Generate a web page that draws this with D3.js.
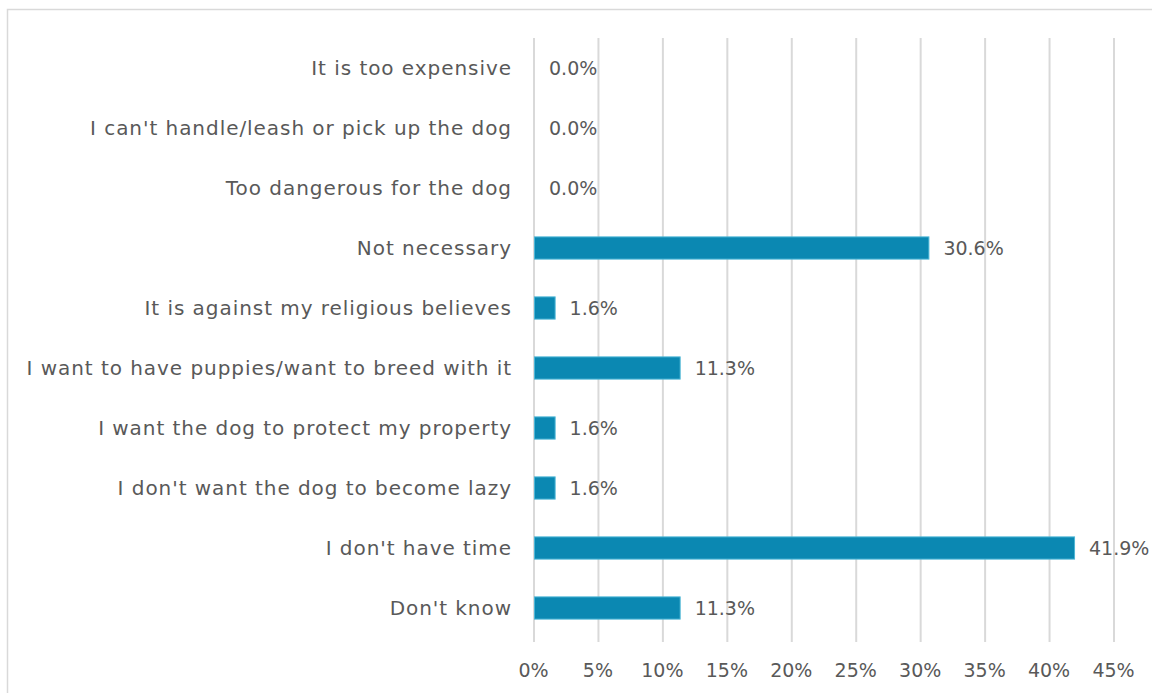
<!DOCTYPE html>
<html>
<head>
<meta charset="utf-8">
<script src="https://cdn.jsdelivr.net/npm/d3@7"></script>
<style>
  html, body { margin: 0; padding: 0; background: #ffffff; }
  svg { display: block; }
  text { font-family: "DejaVu Sans", "Liberation Sans", sans-serif; fill: #595959; }
</style>
</head>
<body>
<svg id="chart" width="1152" height="693"></svg>
<script>
// Reasons given, top to bottom
const categories = [
  "It is too expensive",
  "I can't handle/leash or pick up the dog",
  "Too dangerous for the dog",
  "Not necessary",
  "It is against my religious believes",
  "I want to have puppies/want to breed with it",
  "I want the dog to protect my property",
  "I don't want the dog to become lazy",
  "I don't have time",
  "Don't know"
];
// Share of respondents (%)
const values = [0.0, 0.0, 0.0, 30.6, 1.6, 11.3, 1.6, 1.6, 41.9, 11.3];
// Axis ticks (%)
const ticks = [0, 5, 10, 15, 20, 25, 30, 35, 40, 45];

const FONT = "'DejaVu Sans', 'Liberation Sans', sans-serif";
const svg = d3.select("#chart");

// Outer chart frame
svg.append("rect")
  .attr("x", 7.5).attr("y", 9.5)
  .attr("width", 1160).attr("height", 700)
  .attr("fill", "none").attr("stroke", "#d9d9d9").attr("stroke-width", 1.5);

const x = d3.scaleLinear().domain([0, 45]).range([534, 1114]);
const y = d3.scaleBand().domain(categories).range([38, 638]).paddingInner(0.63).paddingOuter(0.315);

// Vertical gridlines
svg.append("g")
  .selectAll("line")
  .data(ticks)
  .join("line")
  .attr("x1", d => x(d)).attr("x2", d => x(d))
  .attr("y1", 38).attr("y2", 642)
  .attr("stroke", "#d9d9d9").attr("stroke-width", 2);

// Bottom axis labels
const xAxis = d3.axisBottom(x).tickValues(ticks).tickFormat(d => d + "%").tickSize(0).tickPadding(0);
const gx = svg.append("g").attr("transform", "translate(-1,677)").call(xAxis);
gx.select(".domain").remove();
gx.selectAll("text")
  .attr("font-size", 19).attr("dy", "0em")
  .style("font-family", FONT)
  .attr("fill", "#595959");

// Category labels
const yAxis = d3.axisLeft(y).tickSize(0).tickPadding(0);
const gy = svg.append("g").attr("transform", "translate(512,0)").call(yAxis);
gy.select(".domain").remove();
gy.selectAll("text")
  .attr("font-size", 20)
  .attr("dy", "0.36em")
  .style("letter-spacing", "0.95px")
  .style("font-family", FONT)
  .attr("fill", "#595959");

// Bars
svg.append("g")
  .selectAll("rect")
  .data(categories)
  .join("rect")
  .attr("x", x(0) + 0.5)
  .attr("y", d => y(d))
  .attr("width", (d, i) => Math.max(0, x(values[i]) - x(0)))
  .attr("height", y.bandwidth())
  .attr("fill", "#0b88b2")
  .attr("stroke", (d, i) => values[i] > 0 ? "#4db6d6" : "none")
  .attr("stroke-width", 1);

// Value labels
svg.append("g")
  .selectAll("text")
  .data(categories)
  .join("text")
  .attr("x", (d, i) => x(values[i]) + 15)
  .attr("y", d => y(d) + y.bandwidth() / 2)
  .attr("dy", "0.36em")
  .attr("font-size", 19)
  .text((d, i) => values[i].toFixed(1) + "%");
</script>
</body>
</html>
